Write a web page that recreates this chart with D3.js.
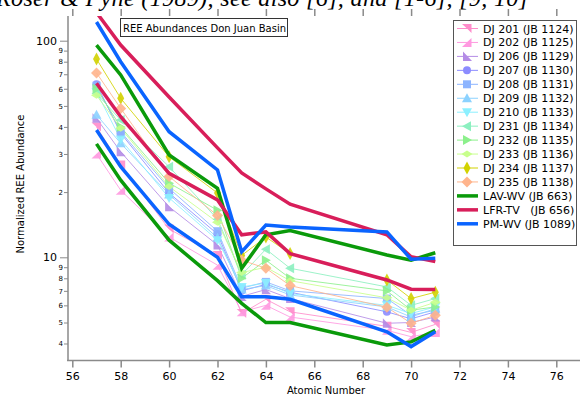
<!DOCTYPE html>
<html>
<head>
<meta charset="utf-8">
<title>REE Abundances Don Juan Basin</title>
<script src="https://d3js.org/d3.v7.min.js"></script>
<style>
  body { margin: 0; background: #fff; }
  svg { display: block; font-family: "DejaVu Sans", sans-serif; }
  .axis text { fill: #000; }
</style>
</head>
<body>
<svg width="580" height="398"></svg>
<script>
// atomic numbers La..Lu actually measured
var atomicNumbers = [57, 58, 60, 62, 63, 64, 65, 69, 70, 71];
var xTickValues = [56, 58, 60, 62, 64, 66, 68, 70, 72, 74, 76];
var yMajorTicks = [10, 100];
var yMinorTicks = [4, 5, 6, 7, 8, 9, 20, 30, 40, 50, 60, 70, 80, 90];

// thin sample series
var dj201 = [40, 26.7, 13.5, 10.2, 5.5, 6.4, 5.6, 4.8, 4.5, 4.9];
var dj202 = [30, 20.4, 12.4, 9.2, 5.6, 6.0, 5.3, 4.6, 4.3, 4.5];
var dj206 = [43.8, 30.7, 17.1, 11.4, 6.6, 7.1, 6.45, 4.96, 5.0, 5.3];
var dj207 = [63, 37.4, 19.8, 12.8, 7.0, 7.5, 6.9, 5.6, 5.2, 5.6];
var dj208 = [62, 38, 20.8, 13.2, 7.2, 7.7, 7.0, 6.45, 5.4, 5.7];
var dj209 = [45.5, 33.6, 19.5, 12.3, 7.1, 7.4, 6.7, 5.9, 5.3, 5.8];
var dj210 = [58, 35, 18.8, 12.0, 7.3, 7.6, 6.8, 6.0, 5.5, 5.9];
var dj231 = [57, 43, 26.2, 15.0, 8.3, 10.9, 8.9, 7.3, 6.0, 6.45];
var dj232 = [60, 40, 22, 16.5, 8.0, 9.7, 8.0, 7.0, 5.7, 5.9];
var dj233 = [56, 39.4, 21.2, 14.5, 8.5, 9.0, 7.8, 6.5, 5.7, 6.2];
var dj234 = [82.3, 54.2, 29.1, 19.8, 10.2, 12.4, 10.4, 7.86, 6.45, 6.9];
var dj235 = [71, 48.7, 23.6, 15.6, 9.7, 8.9, 7.4, 5.88, 4.96, 5.4];

// thick reference series (each drawn as upper + lower line)
var lavHigh = [95.5, 69.5, 29.7, 20.8, 8.9, 12.7, 13.3, 10.25, 9.7, 10.5];
var lavLow  = [33.4, 22.7, 12.0, 7.8, 6.13, 5.0, 5.0, 3.94, 4.07, 4.6];
var lfrHigh = [135, 95.5, 55, 32, 24.5, 20.7, 17.6, 12.7, 10.06, 9.55];
var lfrLow  = [63.6, 44.6, 24.4, 18.4, 12.7, 13.1, 10.4, 7.86, 7.12, 7.1];
var pmHigh  = [122, 80, 38, 25.3, 10.6, 14.1, 13.8, 13.1, 9.8, 9.9];
var pmLow   = [38.7, 26.2, 14.2, 10, 6.58, 6.58, 6.4, 4.53, 3.87, 4.53];

var samples = [
  {name: "DJ 201 (JB 1124)", values: dj201, color: "#ff8ccb", marker: "flag"},
  {name: "DJ 202 (JB 1125)", values: dj202, color: "#ff99e0", marker: "corner"},
  {name: "DJ 206 (JB 1129)", values: dj206, color: "#b48ce6", marker: "wedge"},
  {name: "DJ 207 (JB 1130)", values: dj207, color: "#8c8cff", marker: "circle"},
  {name: "DJ 208 (JB 1131)", values: dj208, color: "#8cb4ff", marker: "square"},
  {name: "DJ 209 (JB 1132)", values: dj209, color: "#8cd2ff", marker: "up"},
  {name: "DJ 210 (JB 1133)", values: dj210, color: "#8cf0ff", marker: "down"},
  {name: "DJ 231 (JB 1134)", values: dj231, color: "#8cf0c0", marker: "left"},
  {name: "DJ 232 (JB 1135)", values: dj232, color: "#8cf08c", marker: "right"},
  {name: "DJ 233 (JB 1136)", values: dj233, color: "#c8ff8c", marker: "wide"},
  {name: "DJ 234 (JB 1137)", values: dj234, color: "#d2d200", marker: "tall"},
  {name: "DJ 235 (JB 1138)", values: dj235, color: "#ffb48c", marker: "diamond"}
];

var refs = [
  {name: "LAV-WV (JB 663)", lines: [lavHigh, lavLow], color: "#0a9a0a"},
  {name: "LFR-TV   (JB 656)", lines: [lfrHigh, lfrLow], color: "#d81e5a"},
  {name: "PM-WV (JB 1089)", lines: [pmHigh, pmLow], color: "#0a64ff"}
];

var markerPaths = {
  flag: "M-5,-4.5L4.5,-4.5L4.5,4.5L0,0Z",
  corner: "M4.5,-4.5L4.5,4.5L-5,4.5Z",
  wedge: "M-4,-5L-4,4.5L5,4.5Z",
  circle: d3.symbol().type(d3.symbolCircle).size(50)(),
  square: "M-4,-4L4,-4L4,4L-4,4Z",
  up: "M0,-5L5,4L-5,4Z",
  down: "M0,5L5,-4L-5,-4Z",
  left: "M-5,0L4,-5L4,5Z",
  right: "M5,0L-4,-5L-4,5Z",
  wide: "M-5.5,0L0,-3.5L5.5,0L0,3.5Z",
  tall: "M0,-6.5L3.5,0L0,6.5L-3.5,0Z",
  diamond: "M0,-5.5L5.5,0L0,5.5L-5.5,0Z"
};

var svg = d3.select("svg");
var axisColor = "#8a8a8a";

// bit of the surrounding page text that the screenshot cut off
svg.append("text")
    .attr("x", -4)
    .attr("y", 6)
    .attr("textLength", 532)
    .style("font-family", "'Liberation Serif', serif")
    .style("font-style", "italic")
    .style("font-size", "24px")
    .text("Roser & Pyne (1989), see also [6], and [1-6], [9, 10]");

var x = d3.scaleLinear().domain([56, 76]).range([72.3, 556.3]);
var y = d3.scaleLog().domain([10, 100]).range([257.3, 40.7]);

svg.append("clipPath").attr("id", "plot")
  .append("rect").attr("x", 68).attr("y", 16).attr("width", 512).attr("height", 344);

// bottom axis
var bottomAxis = svg.append("g")
    .attr("class", "axis")
    .attr("transform", "translate(0,360.5)")
    .call(d3.axisBottom(x).tickValues(xTickValues).tickSize(7).tickPadding(5));
bottomAxis.select(".domain").remove();
bottomAxis.selectAll("line").attr("stroke", axisColor).attr("stroke-width", 1.5);
bottomAxis.selectAll("text").style("font-size", "11px").style("font-family", "'DejaVu Sans', sans-serif");
svg.append("line").attr("x1", 67).attr("x2", 580).attr("y1", 360.5).attr("y2", 360.5)
    .attr("stroke", axisColor).attr("stroke-width", 1.5);

// top ticks (mirror)
var topAxis = svg.append("g")
    .attr("transform", "translate(0,16)")
    .call(d3.axisTop(x).tickValues(xTickValues).tickSize(7).tickFormat(""));
topAxis.select(".domain").remove();
topAxis.selectAll("line").attr("stroke", axisColor).attr("stroke-width", 1.5);

// left axis, majors then minors
var leftAxis = svg.append("g")
    .attr("class", "axis")
    .attr("transform", "translate(68,0)")
    .call(d3.axisLeft(y).tickValues(yMajorTicks).tickSize(8).tickPadding(3).tickFormat(d3.format("d")));
leftAxis.select(".domain").remove();
leftAxis.selectAll("line").attr("stroke", axisColor).attr("stroke-width", 1);
leftAxis.selectAll("text").style("font-size", "11px").style("font-family", "'DejaVu Sans', sans-serif");

var leftMinor = svg.append("g")
    .attr("class", "axis")
    .attr("transform", "translate(68,0)")
    .call(d3.axisLeft(y).tickValues(yMinorTicks).tickSize(4).tickPadding(1)
      .tickFormat(function(d) { return String(d).charAt(0); }));
leftMinor.select(".domain").remove();
leftMinor.selectAll("line").attr("stroke", axisColor).attr("stroke-width", 1);
leftMinor.selectAll("text").style("font-size", "7px").style("font-family", "'DejaVu Sans', sans-serif");

svg.append("line").attr("x1", 68).attr("x2", 68).attr("y1", 16).attr("y2", 361)
    .attr("stroke", axisColor).attr("stroke-width", 1.5);

// axis titles
svg.append("text")
    .attr("x", 326).attr("y", 394)
    .attr("text-anchor", "middle")
    .style("font-size", "10px")
    .text("Atomic Number");

svg.append("text")
    .attr("transform", "translate(24,184) rotate(-90)")
    .attr("text-anchor", "middle")
    .style("font-size", "10px")
    .text("Normalized REE Abundance");

// data
var line = d3.line()
    .x(function(d, i) { return x(atomicNumbers[i]); })
    .y(function(d) { return y(d); });

var plot = svg.append("g").attr("clip-path", "url(#plot)");

samples.forEach(function(s) {
  plot.append("path")
      .attr("d", line(s.values))
      .attr("fill", "none")
      .attr("stroke", s.color)
      .attr("stroke-width", 1)
      .attr("stroke-opacity", 0.85);
});
samples.forEach(function(s) {
  plot.selectAll(null)
      .data(s.values)
      .enter().append("path")
      .attr("d", markerPaths[s.marker])
      .attr("transform", function(d, i) { return "translate(" + x(atomicNumbers[i]) + "," + y(d) + ")"; })
      .attr("fill", s.color)
      .attr("fill-opacity", 0.9);
});

refs.forEach(function(r) {
  r.lines.forEach(function(vals) {
    plot.append("path")
        .attr("d", line(vals))
        .attr("fill", "none")
        .attr("stroke", r.color)
        .attr("stroke-width", 3.5)
        .attr("stroke-linejoin", "miter");
  });
});

// title box
var tb = svg.append("g");
tb.append("rect")
    .attr("x", 120.5).attr("y", 18.5).attr("width", 167).attr("height", 18)
    .attr("fill", "#fff").attr("stroke", "#333").attr("stroke-width", 1);
tb.append("text")
    .attr("x", 123).attr("y", 31.5)
    .style("font-size", "10px")
    .text("REE Abundances Don Juan Basin");

// legend
var lg = svg.append("g");
lg.append("rect")
    .attr("x", 453.5).attr("y", 20.5).attr("width", 123).attr("height", 225)
    .attr("fill", "#fff").attr("stroke", "#555").attr("stroke-width", 1);

var rowY = function(i) { return 28.5 + i * 13.95; };

samples.forEach(function(s, i) {
  var g = lg.append("g").attr("transform", "translate(0," + rowY(i) + ")");
  g.append("line").attr("x1", 457).attr("x2", 478).attr("stroke", s.color).attr("stroke-width", 1);
  g.append("path").attr("d", markerPaths[s.marker]).attr("transform", "translate(467,0)").attr("fill", s.color);
  g.append("text").attr("x", 483).attr("y", 4).style("font-size", "11px").text(s.name);
});
refs.forEach(function(r, j) {
  var g = lg.append("g").attr("transform", "translate(0," + rowY(samples.length + j) + ")");
  g.append("line").attr("x1", 457).attr("x2", 478).attr("stroke", r.color).attr("stroke-width", 3.5);
  g.append("text").attr("x", 483).attr("y", 4).style("font-size", "11px")
      .style("white-space", "pre").attr("xml:space", "preserve").text(r.name);
});
</script>
</body>
</html>
